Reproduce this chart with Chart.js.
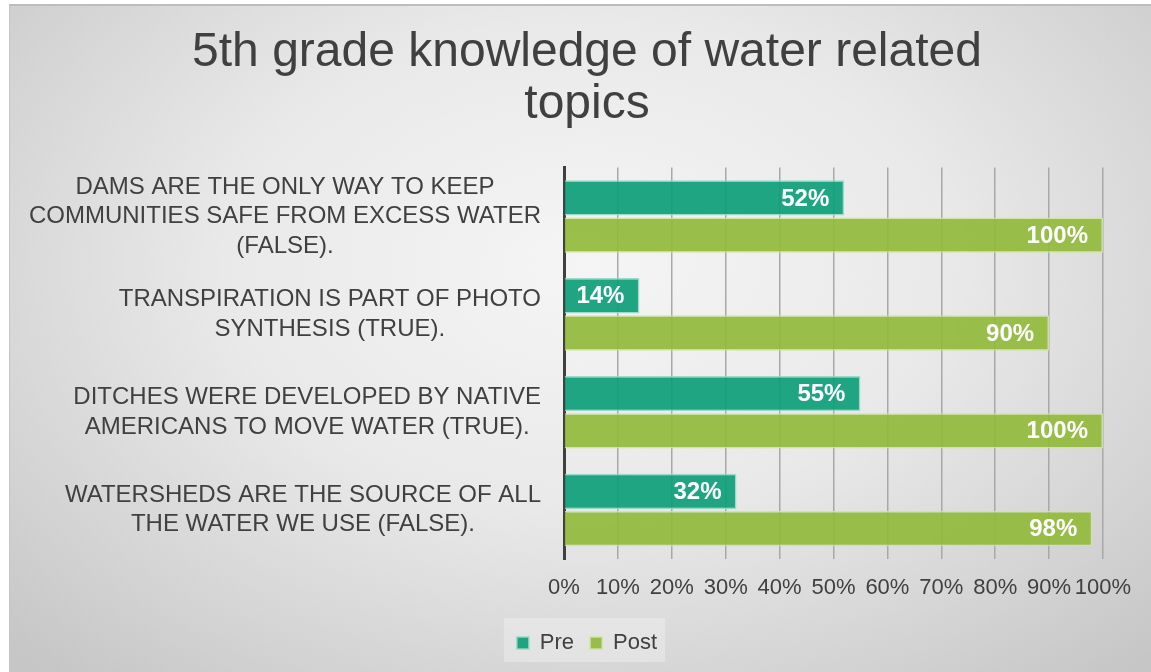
<!DOCTYPE html>
<html>
<head>
<meta charset="utf-8">
<script src="https://cdn.jsdelivr.net/npm/chart.js@4/dist/chart.umd.min.js"></script>
<style>
  html, body { margin: 0; padding: 0; background: #fff; overflow: hidden; }
  #frame {
    position: absolute; left: 9px; top: 4px; width: 1154px; height: 680px;
    border-top: 2px solid #bdbdbd; border-left: 1px solid #c6c6c6;
    background: radial-gradient(ellipse 70% 80% at 50% 38%, #f5f5f5 0%, #e9e9e9 45%, #d3d3d3 80%, #c6c6c6 100%);
  }
  canvas { position: absolute; left: 0; top: 0; }
</style>
</head>
<body>
<div id="frame"><canvas id="chart" width="1154" height="680"></canvas></div>
<script>
const categories = [
  ["DAMS ARE THE ONLY WAY TO KEEP", "COMMUNITIES SAFE FROM EXCESS WATER", "(FALSE)."],
  ["TRANSPIRATION IS PART OF PHOTO", "SYNTHESIS (TRUE)."],
  ["DITCHES WERE DEVELOPED BY NATIVE", "AMERICANS TO MOVE WATER (TRUE)."],
  ["WATERSHEDS ARE THE SOURCE OF ALL", "THE WATER WE USE (FALSE)."]
];
const preValues = [52, 14, 55, 32];
const postValues = [100, 90, 100, 98];
const seriesNames = ["Pre", "Post"];

const FONT = "'Liberation Sans', Arial, Helvetica, sans-serif";
const TEXT = "#404040";

// category labels: each line centred on the label's own width, right edge fixed
const yLabelsPlugin = {
  id: "yLabels",
  afterDraw(chart) {
    const ctx = chart.ctx;
    const yScale = chart.scales.y;
    const right = 531;
    const lh = 29.5;
    ctx.save();
    ctx.font = "24px " + FONT;
    ctx.fillStyle = TEXT;
    ctx.textAlign = "center";
    ctx.textBaseline = "middle";
    categories.forEach((lines, i) => {
      const maxW = Math.max(...lines.map(l => ctx.measureText(l).width));
      const cx = right - maxW / 2;
      const cy = yScale.getPixelForValue(i);
      lines.forEach((line, j) => {
        ctx.fillText(line, cx, cy + (j - (lines.length - 1) / 2) * lh);
      });
    });
    ctx.restore();
  }
};

// white value labels inside the bar end
const valueLabelsPlugin = {
  id: "valueLabels",
  afterDatasetsDraw(chart) {
    const ctx = chart.ctx;
    ctx.save();
    ctx.font = "bold 24px " + FONT;
    ctx.fillStyle = "#ffffff";
    ctx.textAlign = "right";
    ctx.textBaseline = "middle";
    chart.data.datasets.forEach((ds, di) => {
      chart.getDatasetMeta(di).data.forEach((bar, i) => {
        ctx.fillText(ds.data[i] + "%", bar.x - 15, bar.y + 1);
      });
    });
    ctx.restore();
  }
};

// light box behind the legend
const legendBoxPlugin = {
  id: "legendBox",
  beforeDraw(chart) {
    const boxes = chart.legend && chart.legend.legendHitBoxes;
    if (!boxes || !boxes.length) return;
    const left = Math.min(...boxes.map(b => b.left)) - 13;
    const right = Math.max(...boxes.map(b => b.left + b.width)) + 8;
    const top = boxes[0].top - 14;
    const bottom = boxes[0].top + boxes[0].height + 8;
    const ctx = chart.ctx;
    ctx.save();
    ctx.fillStyle = "rgba(255,255,255,0.28)";
    ctx.fillRect(left, top, right - left, bottom - top);
    ctx.restore();
  }
};

new Chart(document.getElementById("chart"), {
  type: "bar",
  data: {
    labels: categories,
    datasets: [
      {
        label: seriesNames[0],
        data: preValues,
        backgroundColor: "rgba(14,158,122,0.92)",
        borderColor: "rgba(150,215,195,0.9)",
        borderWidth: 1.5,
        categoryPercentage: 0.76,
        barPercentage: 0.95
      },
      {
        label: seriesNames[1],
        data: postValues,
        backgroundColor: "rgba(145,186,60,0.92)",
        borderColor: "rgba(205,228,160,0.9)",
        borderWidth: 1.5,
        categoryPercentage: 0.76,
        barPercentage: 0.95
      }
    ]
  },
  options: {
    indexAxis: "y",
    responsive: false,
    animation: false,
    layout: { padding: { left: 61, right: 61, top: 0, bottom: 22 } },
    scales: {
      x: {
        min: 0,
        max: 100,
        ticks: {
          stepSize: 10,
          autoSkip: false,
          callback: v => v + "%",
          color: TEXT,
          font: { family: FONT, size: 22 },
          padding: 16,
          maxRotation: 0
        },
        grid: { color: "#a8a8a8", lineWidth: 1.5, drawTicks: false },
        border: { display: false },
        afterFit(scale) { scale.height = 57; }
      },
      y: {
        ticks: { display: false },
        grid: { display: false },
        border: { display: true, color: "#404040", width: 3 },
        afterFit(scale) { scale.width = 493; }
      }
    },
    plugins: {
      title: {
        display: true,
        text: ["5th grade knowledge of water related", "topics"],
        color: TEXT,
        font: { family: FONT, size: 48, weight: "normal", lineHeight: 1.1 },
        padding: { top: 20, bottom: 36 }
      },
      legend: {
        position: "bottom",
        labels: {
          color: TEXT,
          font: { family: FONT, size: 22 },
          boxWidth: 12,
          boxHeight: 12,
          padding: 16
        }
      },
      tooltip: { enabled: false }
    }
  },
  plugins: [legendBoxPlugin, yLabelsPlugin, valueLabelsPlugin]
});
</script>
</body>
</html>
